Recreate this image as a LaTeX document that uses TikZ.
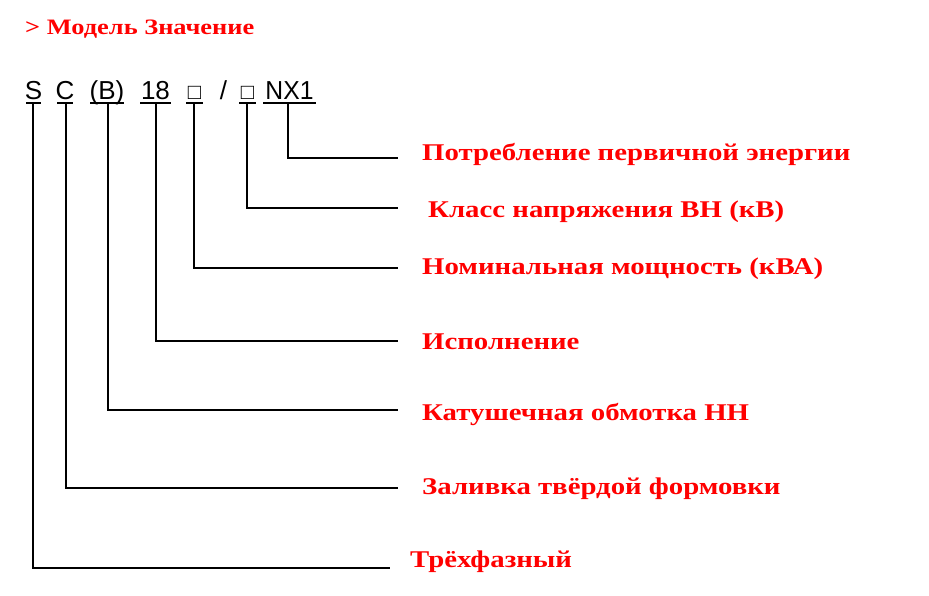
\documentclass[tikz,border=0pt]{standalone}
\usepackage{fontspec}
\setmainfont{Liberation Serif}
\newfontfamily\codefont{Liberation Sans}
\begin{document}
\begin{tikzpicture}[x=1pt,y=-1pt,
  lbl/.style={anchor=west,text=red,font=\bfseries\fontsize{24}{26}\selectfont,inner sep=0},
  code/.style={anchor=base,font=\codefont\fontsize{26}{28}\selectfont,inner sep=0},
  ln/.style={line width=1.6pt}]
\useasboundingbox (0,0) rectangle (929,595);
\node[anchor=west,text=red,font=\bfseries\fontsize{22}{24}\selectfont,inner sep=0] (title) at (25,29) {\scalebox{1.2}[1]{> Модель Значение}};
\node[code] (s) at (33.5,99) {S};
\node[code] (c) at (65,99) {C};
\node[code] (b) at (107,99) {(B)};
\node[code] (e) at (155.5,99) {18};
\node[code] (q1) at (194.5,99) {\fontsize{22}{22}\selectfont□};
\node[code] (sl) at (223.5,99) {/};
\node[code] (q2) at (247.5,99) {\fontsize{22}{22}\selectfont□};
\node[code] (nx) at (289.5,99) {\scalebox{0.95}[1]{NX1}};
\foreach \a/\b in {26/41,57/73,90/124,140/171,186/203,239/256,263/316}
  \draw[ln] (\a,103) -- (\b,103);
\node[lbl] (l1) at (422,154) {\scalebox{1.2}[1]{Потребление первичной энергии}};
\node[lbl] (l2) at (428,212) {\scalebox{1.2}[1]{Класс напряжения ВН (кВ)}};
\node[lbl] (l3) at (422,269) {\scalebox{1.2}[1]{Номинальная мощность (кВА)}};
\node[lbl] (l4) at (422,342) {\scalebox{1.2}[1]{Исполнение}};
\node[lbl] (l5) at (422,414) {\scalebox{1.2}[1]{Катушечная обмотка НН}};
\node[lbl] (l6) at (422,489) {\scalebox{1.2}[1]{Заливка твёрдой формовки}};
\node[lbl] (l7) at (410,562) {\scalebox{1.2}[1]{Трёхфазный}};
\coordinate (e1) at (398,158);
\coordinate (e2) at (398,208);
\coordinate (e3) at (398,268);
\coordinate (e4) at (398,341);
\coordinate (e5) at (398,410);
\coordinate (e6) at (398,488);
\coordinate (e7) at (390,568);
\draw[ln] (288,103) |- (e1);
\draw[ln] (247,103) |- (e2);
\draw[ln] (194,103) |- (e3);
\draw[ln] (156,103) |- (e4);
\draw[ln] (108,103) |- (e5);
\draw[ln] (66,103) |- (e6);
\draw[ln] (33,103) |- (e7);
\end{tikzpicture}
\end{document}
